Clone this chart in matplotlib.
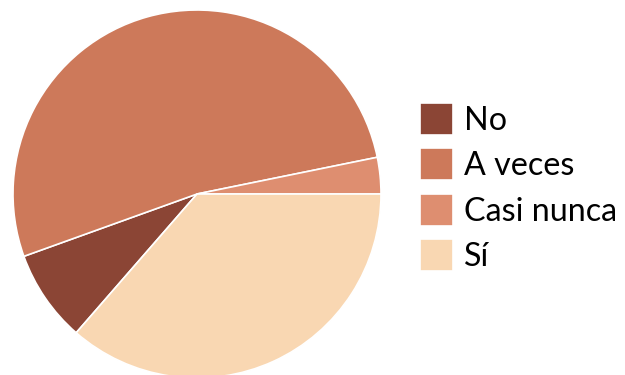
import matplotlib.pyplot as plt

labels = ['No', 'A veces', 'Casi nunca', 'Sí']
values = [8.1, 52.3, 3.2, 36.4]
colors = ['#8B4535', '#CD795A', '#DE8E70', '#F9D7B2']

plt.rcParams['font.family'] = ['Lato', 'DejaVu Sans']

fig = plt.figure(figsize=(6.25, 3.75), dpi=100)

# pie centre at (197, 194) px, radius 184 px
cx, cy, r = 197, 194, 184
ax = fig.add_axes([(cx - r) / 625, (375 - cy - r) / 375, 2 * r / 625, 2 * r / 375])

# last slice ("Sí") ends at 3 o'clock, drawn clockwise
start = -360 * values[-1] / sum(values)
wedges, _ = ax.pie(values, colors=colors, startangle=start, counterclock=False,
                   radius=1, wedgeprops=dict(edgecolor='white', linewidth=1.2))
ax.set_xlim(-1, 1)
ax.set_ylim(-1, 1)
ax.set_aspect('equal')
ax.axis('off')

fig.legend(wedges, labels, loc='center left', bbox_to_anchor=(0.647, 0.5),
           frameon=False, fontsize=23.2, handlelength=1.0, handleheight=1.15,
           handletextpad=0.34, labelspacing=0.38, borderpad=0)

fig.savefig('out.png', dpi=100)
